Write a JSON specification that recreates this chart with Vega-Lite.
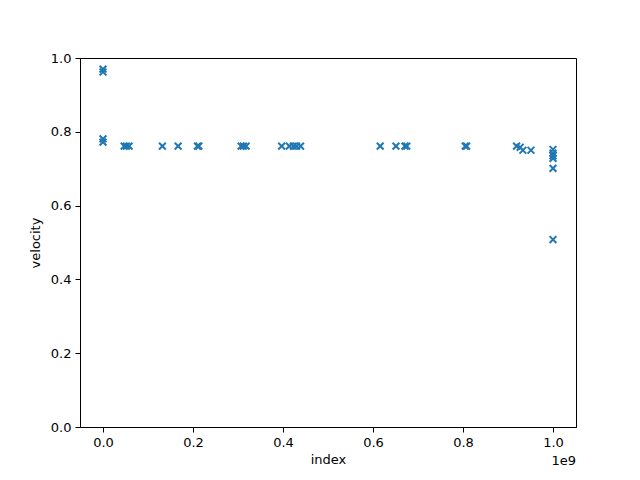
{
  "$schema": "https://vega.github.io/schema/vega-lite/v6.json",
  "width": 496,
  "height": 369,
  "autosize": {"type": "none"},
  "padding": {"left": 80, "top": 58, "right": 64, "bottom": 53},
  "background": "white",
  "config": {
    "view": {"stroke": "black", "strokeWidth": 1},
    "font": "DejaVu Sans",
    "axis": {
      "grid": false,
      "domainColor": "black",
      "tickColor": "black",
      "tickSize": 5,
      "labelColor": "black",
      "labelFont": "DejaVu Sans",
      "labelFontSize": 13,
      "labelPadding": 4,
      "titleFont": "DejaVu Sans",
      "titleFontSize": 13,
      "titleFontWeight": "normal",
      "titleColor": "black"
    }
  },
  "layer": [
    {
      "data": {
        "values": [
          {"index": 0, "velocity": 0.970},
          {"index": 0, "velocity": 0.962},
          {"index": 0, "velocity": 0.781},
          {"index": 0, "velocity": 0.772},
          {"index": 47000000, "velocity": 0.761},
          {"index": 52000000, "velocity": 0.761},
          {"index": 58000000, "velocity": 0.761},
          {"index": 132000000, "velocity": 0.761},
          {"index": 167000000, "velocity": 0.761},
          {"index": 210000000, "velocity": 0.761},
          {"index": 213000000, "velocity": 0.761},
          {"index": 307000000, "velocity": 0.761},
          {"index": 312000000, "velocity": 0.761},
          {"index": 318000000, "velocity": 0.761},
          {"index": 397000000, "velocity": 0.761},
          {"index": 414000000, "velocity": 0.761},
          {"index": 423000000, "velocity": 0.761},
          {"index": 430000000, "velocity": 0.761},
          {"index": 439000000, "velocity": 0.761},
          {"index": 616000000, "velocity": 0.761},
          {"index": 651000000, "velocity": 0.761},
          {"index": 671000000, "velocity": 0.761},
          {"index": 675000000, "velocity": 0.761},
          {"index": 805000000, "velocity": 0.761},
          {"index": 808000000, "velocity": 0.761},
          {"index": 919000000, "velocity": 0.761},
          {"index": 927000000, "velocity": 0.758},
          {"index": 933000000, "velocity": 0.750},
          {"index": 951000000, "velocity": 0.750},
          {"index": 1000000000, "velocity": 0.752},
          {"index": 1000000000, "velocity": 0.742},
          {"index": 1000000000, "velocity": 0.735},
          {"index": 1000000000, "velocity": 0.728},
          {"index": 1000000000, "velocity": 0.701},
          {"index": 1000000000, "velocity": 0.508}
        ]
      },
      "mark": {
        "type": "point",
        "shape": "M-1,-1L1,1M1,-1L-1,1",
        "filled": false,
        "size": 46,
        "strokeWidth": 2,
        "color": "#1f77b4",
        "opacity": 1
      },
      "encoding": {
        "x": {
          "field": "index",
          "type": "quantitative",
          "title": "index",
          "scale": {"domain": [-51100000, 1051100000], "nice": false, "zero": false},
          "axis": {
            "values": [0, 200000000, 400000000, 600000000, 800000000, 1000000000],
            "labelExpr": "format(datum.value / 1e9, '.1f')",
            "titlePadding": 4
          }
        },
        "y": {
          "field": "velocity",
          "type": "quantitative",
          "title": "velocity",
          "scale": {"domain": [0, 1], "nice": false},
          "axis": {
            "values": [0, 0.2, 0.4, 0.6, 0.8, 1.0],
            "format": ".1f",
            "titlePadding": 8
          }
        }
      }
    },
    {
      "data": {"values": [{"label": "1e9"}]},
      "mark": {
        "type": "text",
        "align": "right",
        "baseline": "top",
        "dy": 28,
        "fontSize": 13,
        "font": "DejaVu Sans",
        "color": "black",
        "clip": false
      },
      "encoding": {
        "x": {"datum": 1051100000, "type": "quantitative"},
        "y": {"datum": 0, "type": "quantitative"},
        "text": {"field": "label"}
      }
    }
  ]
}
